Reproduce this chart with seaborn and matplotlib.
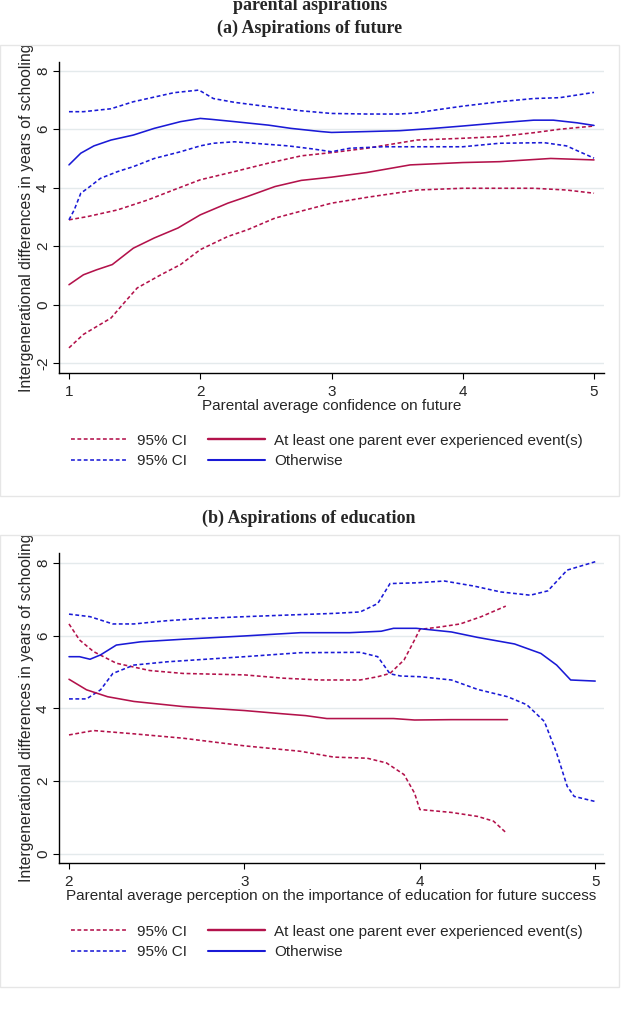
import matplotlib
matplotlib.use("Agg")
import matplotlib.pyplot as plt
import seaborn as sns
import pandas as pd
from matplotlib.lines import Line2D
from matplotlib.patches import Rectangle

# ---------------- data: panel (a) Aspirations of future ----------------
a_red_lo_x = [1, 1.11, 1.32, 1.42, 1.52, 1.7, 1.85, 2.0, 2.21, 2.36, 2.57, 2.77, 3.0, 3.27, 3.65, 4.0, 4.54, 4.79, 5.0]
a_red_lo_y = [-1.48, -1.02, -0.46, 0.06, 0.57, 1.02, 1.37, 1.88, 2.33, 2.56, 2.96, 3.2, 3.47, 3.67, 3.92, 3.98, 3.98, 3.92, 3.81]
a_red_mid_x = [1, 1.11, 1.21, 1.33, 1.49, 1.65, 1.83, 2.0, 2.21, 2.36, 2.57, 2.77, 3.0, 3.27, 3.6, 4.0, 4.28, 4.67, 5.0]
a_red_mid_y = [0.68, 1.02, 1.19, 1.37, 1.93, 2.28, 2.62, 3.07, 3.47, 3.7, 4.04, 4.25, 4.36, 4.52, 4.78, 4.86, 4.89, 5.0, 4.95]
a_red_hi_x = [1, 1.14, 1.37, 1.6, 1.83, 2.0, 2.26, 2.52, 2.77, 3.0, 3.27, 3.65, 4.0, 4.28, 4.54, 4.74, 5.0]
a_red_hi_y = [2.9, 3.01, 3.24, 3.58, 3.98, 4.27, 4.55, 4.84, 5.09, 5.2, 5.35, 5.63, 5.69, 5.75, 5.88, 6.0, 6.11]
a_blue_lo_x = [1, 1.04, 1.09, 1.16, 1.24, 1.37, 1.49, 1.65, 1.85, 2.0, 2.1, 2.26, 2.41, 2.67, 2.85, 3.0, 3.14, 3.39, 3.65, 4.0, 4.28, 4.62, 4.79, 5.0]
a_blue_lo_y = [2.9, 3.24, 3.81, 4.04, 4.32, 4.55, 4.72, 5.0, 5.23, 5.43, 5.52, 5.57, 5.52, 5.43, 5.33, 5.23, 5.35, 5.4, 5.4, 5.4, 5.52, 5.54, 5.43, 5.01]
a_blue_mid_x = [1, 1.09, 1.19, 1.32, 1.49, 1.65, 1.85, 2.0, 2.08, 2.26, 2.52, 2.69, 2.92, 3.0, 3.27, 3.52, 3.78, 4.0, 4.28, 4.54, 4.69, 4.87, 5.0]
a_blue_mid_y = [4.78, 5.18, 5.43, 5.63, 5.8, 6.03, 6.26, 6.37, 6.34, 6.26, 6.14, 6.03, 5.92, 5.89, 5.92, 5.95, 6.03, 6.11, 6.22, 6.31, 6.31, 6.22, 6.13]
a_blue_hi_x = [1, 1.11, 1.32, 1.49, 1.65, 1.8, 1.99, 2.1, 2.26, 2.52, 2.77, 3.0, 3.27, 3.52, 3.65, 3.78, 4.0, 4.28, 4.54, 4.74, 5.0]
a_blue_hi_y = [6.6, 6.6, 6.7, 6.94, 7.1, 7.25, 7.34, 7.05, 6.92, 6.77, 6.63, 6.54, 6.52, 6.52, 6.56, 6.65, 6.79, 6.94, 7.05, 7.08, 7.26]

# ---------------- data: panel (b) Aspirations of education ----------------
b_red_lo_x = [2, 2.14, 2.37, 2.65, 3.0, 3.32, 3.51, 3.7, 3.81, 3.91, 3.97, 4.0, 4.18, 4.33, 4.42, 4.49]
b_red_lo_y = [3.27, 3.39, 3.3, 3.18, 2.97, 2.82, 2.66, 2.63, 2.5, 2.18, 1.67, 1.22, 1.14, 1.03, 0.9, 0.59]
b_red_mid_x = [2, 2.1, 2.22, 2.37, 2.65, 3.0, 3.22, 3.35, 3.47, 3.85, 3.97, 4.18, 4.5]
b_red_mid_y = [4.8, 4.51, 4.32, 4.19, 4.05, 3.94, 3.85, 3.8, 3.72, 3.72, 3.68, 3.69, 3.69]
b_red_hi_x = [2, 2.06, 2.14, 2.27, 2.46, 2.65, 3.0, 3.22, 3.43, 3.66, 3.76, 3.83, 3.91, 3.97, 4.0, 4.12, 4.23, 4.35, 4.49]
b_red_hi_y = [6.32, 5.88, 5.56, 5.24, 5.04, 4.96, 4.92, 4.83, 4.78, 4.78, 4.87, 4.96, 5.33, 5.88, 6.17, 6.24, 6.32, 6.52, 6.81]
b_blue_lo_x = [2, 2.1, 2.18, 2.25, 2.37, 2.56, 3.0, 3.32, 3.66, 3.76, 3.83, 3.89, 4.0, 4.18, 4.33, 4.5, 4.61, 4.71, 4.78, 4.84, 4.88, 5.0]
b_blue_lo_y = [4.26, 4.26, 4.51, 4.96, 5.19, 5.28, 5.42, 5.53, 5.54, 5.42, 4.95, 4.89, 4.87, 4.78, 4.52, 4.32, 4.1, 3.64, 2.77, 1.86, 1.58, 1.44]
b_blue_mid_x = [2, 2.06, 2.12, 2.18, 2.27, 2.41, 2.65, 3.0, 3.32, 3.6, 3.78, 3.85, 3.98, 4.18, 4.33, 4.54, 4.69, 4.78, 4.86, 5.0]
b_blue_mid_y = [5.42, 5.42, 5.35, 5.47, 5.74, 5.83, 5.9, 5.99, 6.08, 6.08, 6.12, 6.2, 6.2, 6.1, 5.95, 5.77, 5.51, 5.19, 4.78, 4.75]
b_blue_hi_x = [2, 2.12, 2.25, 2.37, 2.56, 2.75, 3.0, 3.22, 3.51, 3.66, 3.76, 3.83, 3.98, 4.14, 4.31, 4.46, 4.63, 4.73, 4.84, 5.0]
b_blue_hi_y = [6.59, 6.52, 6.32, 6.32, 6.41, 6.47, 6.52, 6.56, 6.61, 6.65, 6.88, 7.43, 7.45, 7.5, 7.36, 7.2, 7.11, 7.23, 7.8, 8.03]

a_xticks = [1, 2, 3, 4, 5]
a_yticks = [-2, 0, 2, 4, 6, 8]
b_xticks = [2, 3, 4, 5]
b_yticks = [0, 2, 4, 6, 8]

fig_title = "parental aspirations"
a_title = "(a) Aspirations of future"
b_title = "(b) Aspirations of education"
ylabel = "Intergenerational differences in years of schooling"
a_xlabel = "Parental average confidence on future"
b_xlabel = "Parental average perception on the importance of education for future success"
legend_labels = ["95% CI", "95% CI", "At least one parent ever experienced event(s)", "Otherwise"]

# ---------------- style ----------------
sns.set_style("white")
plt.rcParams["font.family"] = ["Liberation Sans", "DejaVu Sans"]
plt.rcParams["font.size"] = 11
plt.rcParams["axes.unicode_minus"] = False

RED = "#b3124b"
BLUE = "#1a1ad6"
GRID = "#e4eaec"
BORDER = "#e6e6e6"
DASH = (0, (2.4, 1.6))
LW = 1.15
FS = 11

W, H = 621, 1029
fig = plt.figure(figsize=(W / 100, H / 100), dpi=100)


def fx(px):
    return px / W


def fy(py):
    return 1 - py / H


def make_panel(ax_box, panel_box, data, xticks, yticks, xlim, ylim, xlabel, legend_y):
    l, t, r, b = panel_box
    bg = fig.add_axes([fx(l), fy(b), fx(r - l), (b - t) / H])
    bg.set_xlim(0, 1)
    bg.set_ylim(0, 1)
    bg.axis("off")
    fig.patches.append(Rectangle((fx(l), fy(b)), fx(r - l), (b - t) / H,
                                 transform=fig.transFigure, fill=False,
                                 edgecolor=BORDER, lw=1.0, zorder=0))
    al, at, ar, ab = ax_box
    ax = fig.add_axes([fx(al), fy(ab), fx(ar - al), (ab - at) / H])
    for (xs, ys, color, dashed) in data:
        df = pd.DataFrame({"x": xs, "y": ys})
        sns.lineplot(data=df, x="x", y="y", ax=ax, color=color, lw=LW,
                     linestyle=DASH if dashed else "-", estimator=None)
    ax.set_xlim(*xlim)
    ax.set_ylim(*ylim)
    ax.set_xticks(xticks)
    ax.set_yticks(yticks)
    ax.grid(axis="y", color=GRID, lw=1.0)
    ax.set_axisbelow(True)
    for s in ["top", "right"]:
        ax.spines[s].set_visible(False)
    for s in ["left", "bottom"]:
        ax.spines[s].set_color("black")
        ax.spines[s].set_linewidth(1.0)
    ax.tick_params(axis="both", direction="out", length=4.5, width=0.8,
                   color="black", labelsize=FS, left=True, bottom=True)
    ax.tick_params(axis="x", pad=4)
    ax.tick_params(axis="y", pad=2)
    for lab in ax.get_yticklabels():
        lab.set_rotation(90)
        lab.set_va("center")
        lab.set_ha("right")
    ax.set_xlabel(xlabel, fontsize=FS, labelpad=0)
    ax.set_ylabel("")
    # y label clipped to the panel frame
    cy = (at + ab) / 2
    ty = 1 - (cy - t) / (b - t)
    bg.text(27 / (r - l), ty, ylabel, rotation=90, ha="center", va="center",
            fontsize=11.3, clip_on=True)
    handles = [Line2D([], [], color=RED, lw=LW, linestyle=DASH),
               Line2D([], [], color=BLUE, lw=LW, linestyle=DASH),
               Line2D([], [], color=RED, lw=LW * 1.5),
               Line2D([], [], color=BLUE, lw=LW * 1.3)]
    fig.legend(handles, legend_labels, ncol=2, loc="center left",
               bbox_to_anchor=(fx(71), fy(legend_y)), frameon=False,
               fontsize=FS, handlelength=3.7, handletextpad=0.6,
               columnspacing=1.4, labelspacing=0.45, borderpad=0,
               borderaxespad=0)
    return ax


data_a = [
    (a_red_lo_x, a_red_lo_y, RED, True),
    (a_red_hi_x, a_red_hi_y, RED, True),
    (a_blue_lo_x, a_blue_lo_y, BLUE, True),
    (a_blue_hi_x, a_blue_hi_y, BLUE, True),
    (a_red_mid_x, a_red_mid_y, RED, False),
    (a_blue_mid_x, a_blue_mid_y, BLUE, False),
]
data_b = [
    (b_red_lo_x, b_red_lo_y, RED, True),
    (b_red_hi_x, b_red_hi_y, RED, True),
    (b_blue_lo_x, b_blue_lo_y, BLUE, True),
    (b_blue_hi_x, b_blue_hi_y, BLUE, True),
    (b_red_mid_x, b_red_mid_y, RED, False),
    (b_blue_mid_x, b_blue_mid_y, BLUE, False),
]

make_panel((59, 62, 604, 373), (0, 45, 619, 496), data_a, a_xticks, a_yticks,
           (0.924, 5.076), (-2.34, 8.3), a_xlabel, 451)
make_panel((59, 553, 604, 863), (0, 535, 619, 987), data_b, b_xticks, b_yticks,
           (1.943, 5.05), (-0.25, 8.27), b_xlabel, 942)

serif = ["Liberation Serif", "DejaVu Serif"]
fig.text(fx(310), fy(5), fig_title, ha="center", va="center", fontsize=13,
         fontweight="bold", family=serif)
fig.text(fx(310), fy(28), a_title, ha="center", va="center", fontsize=13,
         fontweight="bold", family=serif)
fig.text(fx(309), fy(518), b_title, ha="center", va="center", fontsize=13,
         fontweight="bold", family=serif)

fig.savefig("out.png", dpi=100, facecolor="white")
